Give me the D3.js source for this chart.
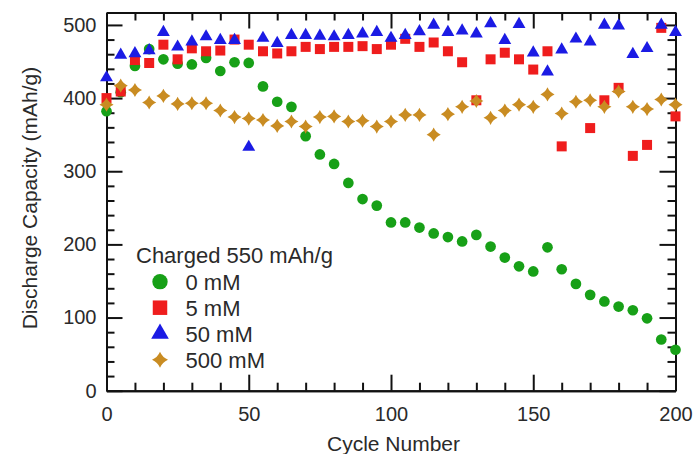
<!DOCTYPE html>
<html>
<head>
<meta charset="utf-8">
<script src="https://cdn.jsdelivr.net/npm/d3@7"></script>
<style>
  html, body { margin: 0; padding: 0; background: #fff; }
  svg { display: block; }
  text { font-family: "Liberation Sans", Arial, Helvetica, sans-serif; fill: #2a2a2a; }
</style>
</head>
<body>
<svg id="chart" width="695" height="454"></svg>
<script>
// ---- data ----
const cycles = [0,5,10,15,20,25,30,35,40,45,50,55,60,65,70,75,80,85,90,95,100,105,110,115,120,125,130,135,140,145,150,155,160,165,170,175,180,185,190,195,200];
const mM0   = [382,408,444,467,453,447,446,455,437,449,448,416,395,388,348,323,310,284,262,253,230,230,223,215,210,204,213,197,182,170,163,196,166,146,131,122,115,110,99,70,56];
const mM5   = [400,409,452,448,473,453,468,464,465,480,473,464,461,464,470,467,470,470,471,467,473,481,470,476,464,449,397,453,462,453,439,464,334,null,359,397,414,321,336,496,375];
const mM50  = [428,459,461,465,490,470,477,484,479,479,333,482,475,486,486,485,484,486,488,490,482,486,491,500,490,492,488,502,479,501,462,436,466,481,477,500,499,460,468,500,490];
const mM500 = [391,417,411,394,403,392,393,393,383,374,372,370,362,368,361,374,375,368,369,361,368,377,377,350,378,388,396,373,383,391,388,405,379,395,397,388,409,388,385,398,391];
const seriesNames = ["0 mM","5 mM","50 mM","500 mM"];
const legendTitle = "Charged 550 mAh/g";
const xTicksMajor = [0,50,100,150,200];
const yTicksMajor = [0,100,200,300,400,500];
const xLabel = "Cycle Number";
const yLabel = "Discharge Capacity (mAh/g)";

// ---- layout ----
const svg = d3.select("#chart");
const X0 = 106.5, X1 = 675.5, Y0 = 390.7, Y1 = 12.5;
const x = d3.scaleLinear().domain([0,200]).range([X0, X1]);
const y = d3.scaleLinear().domain([0,517]).range([Y0, Y1]);

const colors = ["#17a017", "#ef1d1d", "#1b1be4", "#c98c22"];

// 4-point star symbol
const star4 = {
  draw(ctx, size) {
    const r = Math.sqrt(size);
    const a = r * 0.3;
    ctx.moveTo(0, -r);
    ctx.quadraticCurveTo(a, -a, r, 0);
    ctx.quadraticCurveTo(a, a, 0, r);
    ctx.quadraticCurveTo(-a, a, -r, 0);
    ctx.quadraticCurveTo(-a, -a, 0, -r);
    ctx.closePath();
  }
};
const types = [d3.symbolCircle, d3.symbolSquare, d3.symbolTriangle, star4];
const sizes = [90, 100, 72, 50];
const legendSizes = [185, 210, 135, 64];

// ---- axes ----
const fontTick = "20px";
function styleAxis(g) {
  g.select(".domain").attr("stroke", "#111").attr("stroke-width", 2);
  g.selectAll(".tick line").attr("stroke", "#111").attr("stroke-width", 2);
  g.selectAll(".tick text").style("font-size", fontTick).attr("fill", "#2a2a2a");
}
const minorX = d3.range(0, 201, 10).filter(v => v % 50 !== 0);
const minorY = d3.range(0, 501, 20).filter(v => v % 100 !== 0);

// bottom
svg.append("g").attr("transform", `translate(0,${Y0})`)
  .call(d3.axisBottom(x).tickValues(xTicksMajor).tickSizeInner(-16).tickSizeOuter(0).tickPadding(16).tickFormat(d3.format("d")))
  .call(styleAxis);
svg.append("g").attr("transform", `translate(0,${Y0})`)
  .call(d3.axisBottom(x).tickValues(minorX).tickSizeInner(-8).tickSizeOuter(0).tickFormat(""))
  .call(styleAxis);
// top
svg.append("g").attr("transform", `translate(0,${Y1})`)
  .call(d3.axisTop(x).tickValues(xTicksMajor).tickSizeInner(-16).tickSizeOuter(0).tickFormat(""))
  .call(styleAxis);
svg.append("g").attr("transform", `translate(0,${Y1})`)
  .call(d3.axisTop(x).tickValues(minorX).tickSizeInner(-8).tickSizeOuter(0).tickFormat(""))
  .call(styleAxis);
// left
svg.append("g").attr("transform", `translate(${X0},0)`)
  .call(d3.axisLeft(y).tickValues(yTicksMajor).tickSizeInner(-16).tickSizeOuter(0).tickPadding(10).tickFormat(d3.format("d")))
  .call(styleAxis);
svg.append("g").attr("transform", `translate(${X0},0)`)
  .call(d3.axisLeft(y).tickValues(minorY).tickSizeInner(-8).tickSizeOuter(0).tickFormat(""))
  .call(styleAxis);
// right
svg.append("g").attr("transform", `translate(${X1},0)`)
  .call(d3.axisRight(y).tickValues(yTicksMajor).tickSizeInner(-16).tickSizeOuter(0).tickFormat(""))
  .call(styleAxis);
svg.append("g").attr("transform", `translate(${X1},0)`)
  .call(d3.axisRight(y).tickValues(minorY).tickSizeInner(-8).tickSizeOuter(0).tickFormat(""))
  .call(styleAxis);

// axis titles
svg.append("text").attr("x", 393.5).attr("y", 451).attr("text-anchor", "middle")
  .style("font-size", "21px").text(xLabel);
svg.append("text").attr("transform", "translate(37,198) rotate(-90)").attr("text-anchor", "middle")
  .style("font-size", "21px").text(yLabel);

// ---- points ----
const allSeries = [mM0, mM5, mM50, mM500];
allSeries.forEach((vals, i) => {
  const sym = d3.symbol().type(types[i]).size(sizes[i]);
  svg.append("g").selectAll("path")
    .data(vals.map((v, j) => [cycles[j], v]).filter(d => d[1] != null))
    .join("path")
    .attr("transform", d => `translate(${x(d[0])},${y(d[1])})`)
    .attr("d", sym)
    .attr("fill", colors[i]);
});

// ---- legend ----
const lg = svg.append("g");
lg.append("text").attr("x", 136).attr("y", 263).style("font-size", "22px").text(legendTitle);
seriesNames.forEach((name, i) => {
  const cy = 281.7 + i * 26;
  lg.append("path").attr("transform", `translate(160,${cy})`)
    .attr("d", d3.symbol().type(types[i]).size(legendSizes[i])).attr("fill", colors[i]);
  lg.append("text").attr("x", 185.5).attr("y", cy + 8).style("font-size", "22px").text(name);
});
</script>
</body>
</html>
